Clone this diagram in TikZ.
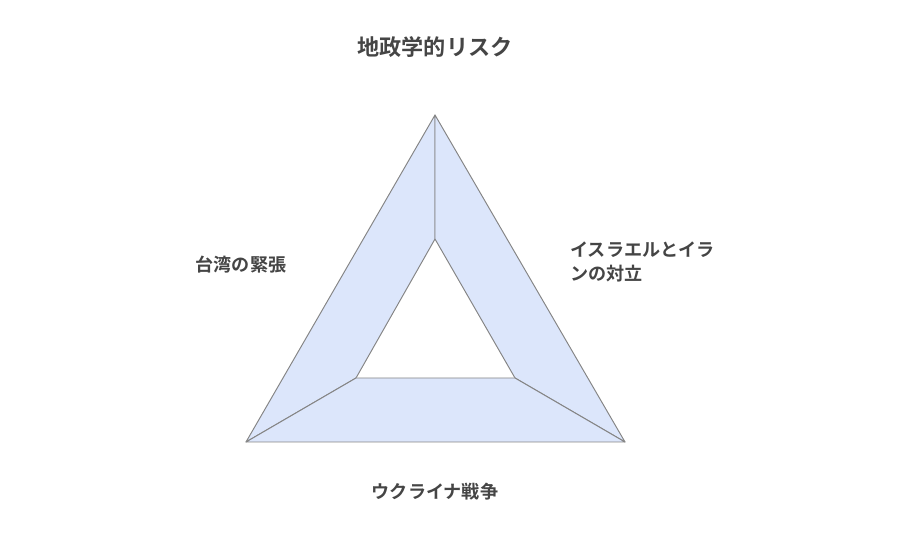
\documentclass[tikz,border=0pt]{standalone}
\usepackage{fontspec}
\newfontfamily\jpfont{Noto Sans CJK JP}[BoldFont={Noto Sans CJK JP Bold}]
\usepackage{xcolor}
\usepackage{tikz}
\usetikzlibrary{positioning,calc}
\definecolor{panelfill}{HTML}{DCE6FB}
\definecolor{panelline}{HTML}{858585}
\definecolor{labeltext}{HTML}{454545}
\tikzset{
  panel/.style={fill=panelfill,draw=panelline,line width=0.55pt,line join=round},
  risklabel/.style={text=labeltext,font=\jpfont\bfseries\fontsize{10.3}{13.5}\selectfont,inner sep=0pt},
}
\begin{document}
\begin{tikzpicture}[x=0.02cm,y=-0.02cm]
    \useasboundingbox (0,0) rectangle (900,546);
    % outer and inner corners
    \coordinate (ot) at (435,115);
    \coordinate (ol) at (246,442);
    \coordinate (or) at (625,442);
    \coordinate (it) at (435,239);
    \coordinate (il) at (356,378);
    \coordinate (ir) at (515,378);
    % three panels
    \draw[panel] (ot) -- (ol) -- (il) -- (it) -- cycle;
    \draw[panel] (ot) -- (or) -- (ir) -- (it) -- cycle;
    \draw[panel] (ol) -- (or) -- (ir) -- (il) -- cycle;
    \node[risklabel,font=\jpfont\bfseries\fontsize{12.6}{15}\selectfont] (title) at (435,47) {地政学的リスク};
    \node[risklabel] (taiwan) at (241,265) {台湾の緊張};
    \node[risklabel,anchor=west] (israel) at (570,264) {
      \begin{tabular}[c]{@{}l@{}}
        イスラエルとイラ\\
        ンの対立
      \end{tabular}};
    \node[risklabel] (ukraine) at (435,492) {ウクライナ戦争};
\end{tikzpicture}
\end{document}
